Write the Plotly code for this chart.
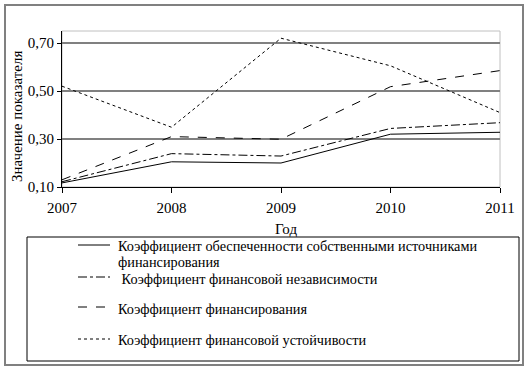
import plotly.graph_objects as go

years = [2007, 2008, 2009, 2010, 2011]
own_sources = [0.117, 0.205, 0.200, 0.320, 0.328]
fin_independence = [0.122, 0.239, 0.229, 0.344, 0.368]
financing = [0.130, 0.310, 0.299, 0.518, 0.585]
fin_stability = [0.520, 0.349, 0.720, 0.605, 0.410]

names = [
    "Коэффициент обеспеченности собственными источниками",
    " Коэффициент финансовой независимости",
    "Коэффициент финансирования",
    "Коэффициент финансовой устойчивости",
]
name_cont = "финансирования"
series = [own_sources, fin_independence, financing, fin_stability]
dashes = ["solid", "dashdot", "dash", "dot"]

FONT = "Liberation Serif"
L, R, T, B = 62, 500, 31, 187
W, H = 530, 368
pw, ph = R - L, B - T


def px(x):
    return (x - L) / pw


def py(y):
    return (B - y) / ph


fig = go.Figure()
for n, s, d in zip(names, series, dashes):
    fig.add_trace(go.Scatter(x=years, y=s, mode="lines", name=n, showlegend=False,
                             line=dict(color="black", width=1, dash=d)))

shapes = [
    dict(type="rect", xref="paper", yref="paper", x0=0, x1=1, y0=0, y1=1,
         line=dict(color="#c0c0c0", width=1), layer="below"),
    dict(type="rect", xref="paper", yref="paper",
         x0=px(5), x1=px(523), y0=py(365), y1=py(5),
         line=dict(color="#808080", width=2)),
    dict(type="rect", xref="paper", yref="paper",
         x0=px(27), x1=px(519), y0=py(361), y1=py(237),
         line=dict(color="black", width=1)),
]
annotations = [
    dict(text="Значение показателя", textangle=-90, xref="paper", yref="paper",
         x=px(17), y=py(117), xanchor="center", yanchor="middle",
         showarrow=False, font=dict(family=FONT, size=15)),
    dict(text="Год", xref="paper", yref="paper", x=px(286), y=py(229),
         xanchor="center", yanchor="middle",
         showarrow=False, font=dict(family=FONT, size=15)),
    dict(text=name_cont, xref="paper", yref="paper", x=px(116), y=py(262),
         xanchor="left", yanchor="middle", showarrow=False,
         font=dict(family=FONT, size=14.3)),
]
# legend (drawn manually to match the reference layout)
leg_line_y = [245, 277, 307, 339]
leg_text_y = [246, 279, 309, 340]
for n, d, ly, ty in zip(names, dashes, leg_line_y, leg_text_y):
    shapes.append(dict(type="line", xref="paper", yref="paper",
                       x0=px(78), x1=px(110), y0=py(ly), y1=py(ly),
                       line=dict(color="black", width=1, dash=d)))
    annotations.append(dict(text=n, xref="paper", yref="paper", x=px(116), y=py(ty),
                            xanchor="left", yanchor="middle", align="left",
                            showarrow=False, font=dict(family=FONT, size=14.3)))

fig.update_layout(
    width=W, height=H,
    margin=dict(l=L, r=W - R, t=T, b=H - B, autoexpand=False),
    paper_bgcolor="white", plot_bgcolor="white",
    separators=", ",
    font=dict(family=FONT, size=15, color="black"),
    showlegend=False,
    xaxis=dict(range=[2007, 2011], tickvals=years, ticktext=[str(y) for y in years],
               showgrid=False, showline=True, linecolor="black", linewidth=1,
               ticks="outside", ticklen=5, tickcolor="black", ticklabelstandoff=2,
               tickfont=dict(family=FONT, size=15), zeroline=False),
    yaxis=dict(range=[0.1, 0.75], tickvals=[0.1, 0.3, 0.5, 0.7], tickformat=".2f",
               showgrid=True, gridcolor="#808080", gridwidth=1.5,
               showline=True, linecolor="black", linewidth=1,
               ticks="outside", ticklen=4, tickcolor="black",
               tickfont=dict(family=FONT, size=15), zeroline=False),
    shapes=shapes,
    annotations=annotations,
)
fig.write_html("out.html", config={"displayModeBar": False},
               post_script="document.body.style.margin='0';")
